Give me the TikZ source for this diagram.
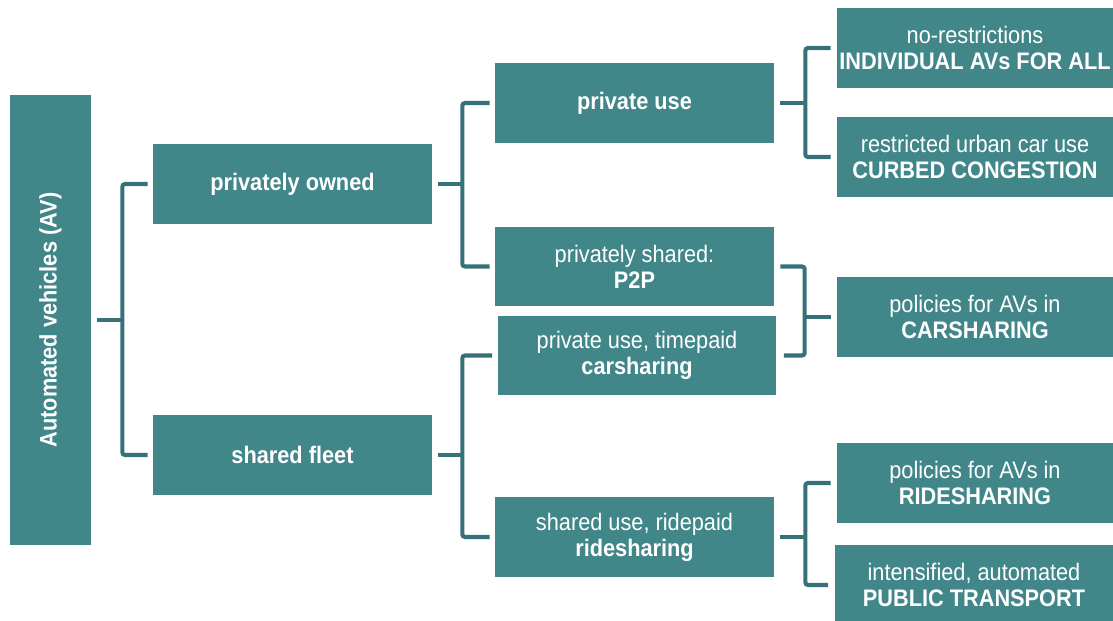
\documentclass[tikz,border=0pt]{standalone}
\usepackage{fontspec}
\setmainfont[FakeStretch=0.91]{Liberation Sans}
\usetikzlibrary{positioning}
\definecolor{avfill}{HTML}{41878A}
\definecolor{avline}{HTML}{36717A}
\tikzset{
  box/.style={fill=avfill, text=white, minimum width=5.58cm, minimum height=1.6cm,
    inner sep=0pt, align=center, font=\fontsize{13.6}{14.8}\selectfont},
  wide/.style={box, minimum width=5.52cm},
  link/.style={draw=avline, line width=2.3pt, rounded corners=1.5pt},
}

\begin{document}
\begin{tikzpicture}[x=0.02cm, y=-0.02cm]
        \useasboundingbox (0,0) rectangle (1113,621);

        % root
        \node [box, minimum width=1.62cm, minimum height=9cm] (AV) at (50.5,320)
            {\rotatebox{90}{\bfseries Automated vehicles (AV)}};

        % ownership
        \node [box] (Owned) at (292.5,184) {\bfseries privately owned};
        \node [box] (Fleet) at (292.5,455) {\bfseries shared fleet};

        % use
        \node [box] (PrivUse) at (634.5,103) {\bfseries private use};
        \node [box] (PtwoP) at (634.5,266.5) {privately shared:\\{\bfseries P2P}};
        \node [box] (CarSh) at (637,355.5) {private use, timepaid\\{\bfseries carsharing}};
        \node [box] (RideSh) at (634.5,537) {shared use, ridepaid\\{\bfseries ridesharing}};

        % policies
        \node [wide] (NoRestr) at (975,48) {no-restrictions\\{\bfseries INDIVIDUAL AVs FOR ALL}};
        \node [wide] (Curbed) at (975,157) {restricted urban car use\\{\bfseries CURBED CONGESTION}};
        \node [wide] (PolCar) at (975,317) {policies for AVs in\\{\bfseries CARSHARING}};
        \node [wide] (PolRide) at (975,483) {policies for AVs in\\{\bfseries RIDESHARING}};
        \node [box] (PubTr) at (974,585) {intensified, automated\\{\bfseries PUBLIC TRANSPORT}};

        % forks
        \coordinate (AVFork) at ([xshift=0.62cm]AV.east);
        \coordinate (OwnedFork) at ([xshift=0.6cm]Owned.east);
        \coordinate (FleetFork) at ([xshift=0.6cm]Fleet.east);
        \coordinate (PrivFork) at ([xshift=0.62cm]PrivUse.east);
        \coordinate (CarFork) at ([xshift=-0.64cm]PolCar.west);
        \coordinate (RideFork) at ([xshift=0.62cm]RideSh.east);

        \draw [link] ([xshift=0.12cm]AV.east) -- (AVFork);
        \draw [link] ([xshift=-0.1cm]Owned.west) -| (AVFork) |- ([xshift=-0.1cm]Fleet.west);

        \draw [link] ([xshift=0.12cm]Owned.east) -- (OwnedFork);
        \draw [link] ([xshift=-0.1cm]PrivUse.west) -| (OwnedFork) |- ([xshift=-0.1cm]PtwoP.west);

        \draw [link] ([xshift=0.12cm]Fleet.east) -- (FleetFork);
        \draw [link] ([xshift=-0.1cm]CarSh.west) -| (FleetFork) |- ([xshift=-0.1cm]RideSh.west);

        \draw [link] ([xshift=0.12cm]PrivUse.east) -- (PrivFork);
        \draw [link] ([xshift=-0.12cm]NoRestr.west) -| (PrivFork) |- ([xshift=-0.12cm]Curbed.west);

        \draw [link] ([xshift=0.12cm]PtwoP.east) -| (CarFork) |- ([xshift=0.14cm]CarSh.east);
        \draw [link] (CarFork) -- ([xshift=-0.12cm]PolCar.west);

        \draw [link] ([xshift=0.12cm]RideSh.east) -- (RideFork);
        \draw [link] ([xshift=-0.12cm]PolRide.west) -| (RideFork) |- ([xshift=-0.12cm]PubTr.west);
\end{tikzpicture}
\end{document}
